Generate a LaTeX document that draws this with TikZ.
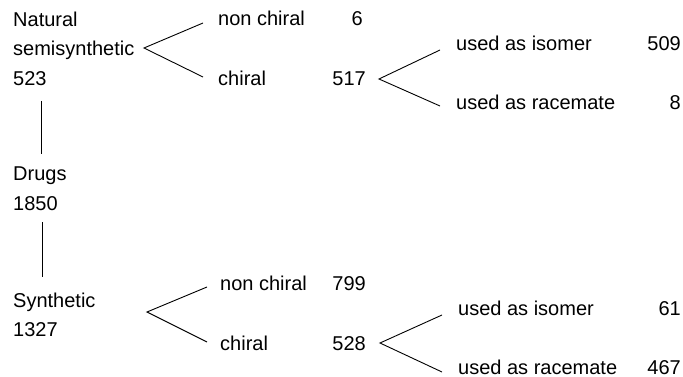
\documentclass[tikz,border=0pt]{standalone}
\usepackage{fontspec}
\setmainfont{Liberation Sans}
\begin{document}
\begin{tikzpicture}[x=1pt,y=-1pt,
  lbl/.style={anchor=base west,inner sep=0pt,font=\fontsize{20}{20}\selectfont},
  num/.style={anchor=base east,inner sep=0pt,font=\fontsize{20}{20}\selectfont},
  link/.style={draw=black,line width=0.9pt}]
\useasboundingbox (0,0) rectangle (683,377);

% left column
\node[lbl] (nat)   at (13,26.5)  {Natural};
\node[lbl] (semi)  at (13,55.5)  {semisynthetic};
\node[lbl] (n523)  at (13,86)  {523};
\node[lbl] (drugs) at (13,180) {Drugs};
\node[lbl] (n1850) at (13,211) {1850};
\node[lbl] (syn)   at (13,307) {Synthetic};
\node[lbl] (n1327) at (13,336) {1327};

% vertical links
\coordinate (v1a) at (41,101);
\coordinate (v1b) at (41,154);
\coordinate (v2a) at (42,222);
\coordinate (v2b) at (42,277);
\draw[link] (v1a) -- (v1b);
\draw[link] (v2a) -- (v2b);

% natural branch
\node[lbl] (nc1)  at (218,26) {non chiral};
\node[num] (n6)   at (363,26) {6};
\node[lbl] (ch1)  at (218,85.5) {chiral};
\node[num] (n517) at (366,85.5) {517};
\coordinate (a1)  at (144,48);
\coordinate (a1u) at (203,23);
\coordinate (a1d) at (203,77);
\draw[link] (a1u) -- (a1) -- (a1d);

\node[lbl] (iso1) at (456,50.5)  {used as isomer};
\node[num] (n509) at (681,50.5)  {509};
\node[lbl] (rac1) at (456,110) {used as racemate};
\node[num] (n8)   at (681,110) {8};
\coordinate (b1)  at (379,79);
\coordinate (b1u) at (440,50);
\coordinate (b1d) at (440,106);
\draw[link] (b1u) -- (b1) -- (b1d);

% synthetic branch
\node[lbl] (nc2)  at (220,290) {non chiral};
\node[num] (n799) at (366,290) {799};
\node[lbl] (ch2)  at (220,350) {chiral};
\node[num] (n528) at (366,350) {528};
\coordinate (a2)  at (147,312);
\coordinate (a2u) at (207,287);
\coordinate (a2d) at (207,342);
\draw[link] (a2u) -- (a2) -- (a2d);

\node[lbl] (iso2) at (458,315) {used as isomer};
\node[num] (n61)  at (681,315) {61};
\node[lbl] (rac2) at (458,374) {used as racemate};
\node[num] (n467) at (681,374) {467};
\coordinate (b2)  at (380,343);
\coordinate (b2u) at (442,315);
\coordinate (b2d) at (442,372);
\draw[link] (b2u) -- (b2) -- (b2d);
\end{tikzpicture}
\end{document}
